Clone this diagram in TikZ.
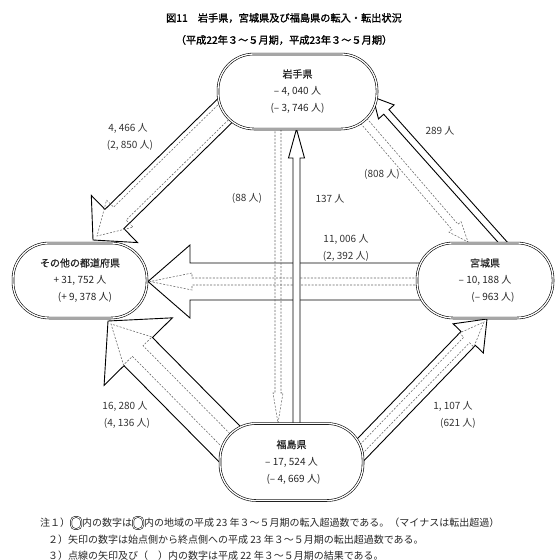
\documentclass[tikz,border=0pt]{standalone}
\usepackage{fontspec}
\setmainfont{Noto Sans CJK JP}
\newfontfamily\ttlfont[FakeBold=1.3]{Noto Sans CJK JP}
\newfontfamily\hdfont[FakeBold=0.7]{Noto Sans CJK JP}
\usetikzlibrary{calc}
% #1 style, #2 tail, #3 tip, #4 shaft half width, #5 head half width, #6 head length
\newcommand\blkarrow[6]{%
  \coordinate (nk) at ($(#3)!#6pt!(#2)$);
  \draw[#1] ($(#2)!#4pt!90:(#3)$) -- ($(nk)!#4pt!90:(#3)$) -- ($(nk)!#5pt!90:(#3)$)
     -- (#3) -- ($(nk)!#5pt!-90:(#3)$) -- ($(nk)!#4pt!-90:(#3)$) -- ($(#2)!#4pt!-90:(#3)$) -- cycle;}
\begin{document}
\begin{tikzpicture}[x=1pt,y=-1pt,
  solidarr/.style={draw=black, line width=0.9pt, fill=white, line join=miter},
  dasharr/.style={draw=black!60, line width=0.55pt, dash pattern=on 2pt off 1.5pt},
  box/.style={draw=black, line width=0.6pt, double=white, double distance=1.3pt, fill=white,
     rounded corners=36pt, align=center, inner sep=0pt, minimum height=75pt,
     font=\fontsize{10}{17}\selectfont, text=black!85},
  lab/.style={inner sep=0pt, font=\fontsize{10}{12}\selectfont, text=black!80},
  ttl/.style={inner sep=0pt, font=\ttlfont\fontsize{10.2}{12}\selectfont},
  note/.style={inner sep=0pt, anchor=west, font=\fontsize{10}{12}\selectfont, text=black!85},
  icon/.style={draw=black, line width=0.5pt, double=white, double distance=0.9pt,
     rounded corners=4pt, minimum width=10pt, minimum height=12pt, inner sep=0pt, anchor=west}]
\useasboundingbox (0,0) rectangle (555,560);

% coordinates of arrow ends
\coordinate (aT) at (247,89);   \coordinate (aH) at (93,240);  \coordinate (aHd) at (97,236);
\coordinate (dT) at (240,454.5); \coordinate (dH) at (108,321); \coordinate (dHd) at (111,324);
\coordinate (eT) at (341,470);  \coordinate (eH) at (487,319); \coordinate (eHd) at (484,322);
\coordinate (fT) at (515,256);  \coordinate (fH) at (373,97);
\coordinate (gT) at (350,105);  \coordinate (gH) at (468,242);
\coordinate (cT) at (485,281.5); \coordinate (cH) at (148,281.5); \coordinate (cHd) at (150,281.5);
\coordinate (vdT) at (278,91);  \coordinate (vdH) at (278,423);
\coordinate (vsT) at (296.5,461); \coordinate (vsH) at (296.5,129);

% arrows
\blkarrow{solidarr}{aT}{aH}{13.5}{33}{30}
\blkarrow{dasharr}{aT}{aHd}{9}{19}{32}
\blkarrow{solidarr}{dT}{dH}{20}{48}{43}
\blkarrow{dasharr}{dT}{dHd}{7.5}{20}{38}
\blkarrow{solidarr}{eT}{eH}{10}{21}{27}
\blkarrow{dasharr}{eT}{eHd}{4}{10}{25}
\blkarrow{dasharr}{gT}{gH}{4}{8}{20}
\blkarrow{solidarr}{fT}{fH}{3.5}{10.5}{20}
\blkarrow{solidarr}{cT}{cH}{18.5}{36.5}{42}
\blkarrow{dasharr}{cT}{cHd}{3.5}{8.5}{42}
\blkarrow{dasharr}{vdT}{vdH}{3}{5}{30}
\blkarrow{solidarr}{vsT}{vsH}{3.5}{8}{29}

% nodes
\node[box, minimum width=159pt] (iwate) at (297.5,91.5)
  {{\hdfont 岩手県}\\– 4, 040 人\\(– 3, 746 人)};
\node[box, minimum width=134pt] (other) at (80,280.5)
  {{\hdfont その他の都道府県}\\+ 31, 752 人\\\hspace*{10pt}(+ 9, 378 人)};
\node[box, minimum width=136pt] (miyagi) at (485,280.5)
  {{\hdfont 宮城県}\\– 10, 188 人\\\hspace*{16pt}(– 963 人)};
\node[box, minimum width=143pt, minimum height=77pt] (fuku) at (291.5,462)
  {{\hdfont 福島県}\\– 17, 524 人\\\hspace*{4pt}(– 4, 669 人)};

% arrow labels
\node[lab] (l1a) at (128,128) {4, 466 人};
\node[lab] (l1b) at (130,145) {(2, 850 人)};
\node[lab] (l2) at (247,198) {(88 人)};
\node[lab] (l3) at (330,199) {137 人};
\node[lab] (l4) at (440,131) {289 人};
\node[lab] (l5) at (382,174) {(808 人)};
\node[lab] (l6a) at (346,239) {11, 006 人};
\node[lab] (l6b) at (346,256) {(2, 392 人)};
\node[lab] (l7a) at (125,406) {16, 280 人};
\node[lab] (l7b) at (127,423) {(4, 136 人)};
\node[lab] (l8a) at (453,406) {1, 107 人};
\node[lab] (l8b) at (458,423) {(621 人)};

% title
\node[ttl] (t1) at (284,18) {図11　岩手県，宮城県及び福島県の転入・転出状況};
\node[ttl] (t2) at (284,40) {（平成22年３～５月期，平成23年３～５月期）};

% notes
\node[note] (n1) at (40,523) {注１）};
\node[icon] (ic1) at ([xshift=0.5pt]n1.east) {};
\node[note] (n2) at ([xshift=0.5pt]ic1.east) {内の数字は};
\node[icon] (ic2) at ([xshift=0.5pt]n2.east) {};
\node[note] (n3) at ([xshift=0.5pt]ic2.east) {内の地域の平成 23 年３～５月期の転入超過数である。（マイナスは転出超過）};
\node[note] (n4) at (48,540) {２）矢印の数字は始点側から終点側への平成 23 年３～５月期の転出超過数である。};
\node[note] (n5) at (48,556) {３）点線の矢印及び（　）内の数字は平成 22 年３～５月期の結果である。};
\end{tikzpicture}
\end{document}
